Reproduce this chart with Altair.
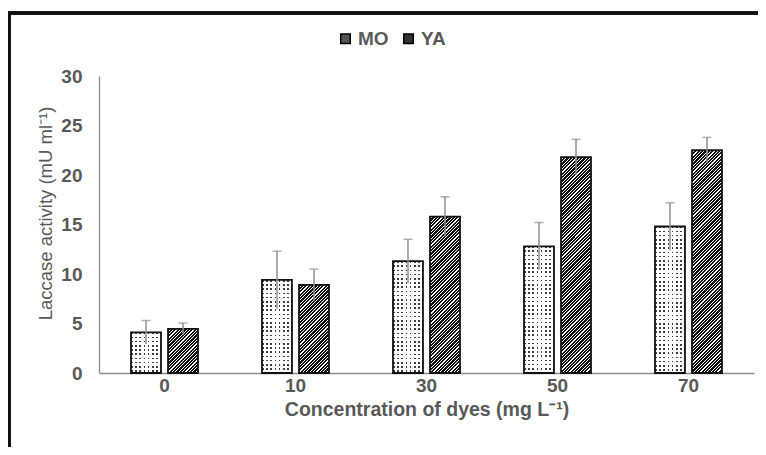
import math
import altair as alt
import pandas as pd

# ---------------- data ----------------
conc = ["0", "10", "30", "50", "70"]
series = ["MO", "YA"]
mo_vals = [4.1, 9.4, 11.3, 12.8, 14.8]
mo_err = [1.2, 2.9, 2.2, 2.4, 2.4]
ya_vals = [4.45, 8.9, 15.8, 21.8, 22.5]
ya_err = [0.6, 1.6, 2.0, 1.8, 1.3]

# ---------------- layout / style ----------------
PW, PH = 655, 297
YMAX = 30
BAR_W = 30
FONT = "Liberation Sans"
TXT = "#595959"
ERR = "#8f8f8f"

rows = []
for c, m, me, y, ye in zip(conc, mo_vals, mo_err, ya_vals, ya_err):
    rows.append(dict(conc=c, series="MO", value=m, err=me))
    rows.append(dict(conc=c, series="YA", value=y, err=ye))
df = pd.DataFrame(rows)
df["lo"] = df["value"] - df["err"]
df["hi"] = df["value"] + df["err"]

x_enc = alt.X(
    "conc:N",
    scale=alt.Scale(domain=conc, paddingInner=0.4885, paddingOuter=0.2443),
    axis=alt.Axis(
        title="Concentration of dyes (mg L⁻¹)",
        labelAngle=0,
        ticks=False,
        labelPadding=3,
        titlePadding=5,
        labelFontWeight="bold",
        titleFontWeight="bold",
        labelFontSize=19,
        titleFontSize=19.5,
    ),
)
xo_enc = alt.XOffset("series:N", scale=alt.Scale(domain=series, paddingInner=0.19, paddingOuter=0))
y_scale = alt.Scale(domain=[0, YMAX], nice=False)
y_axis = alt.Axis(
    title="Laccase activity (mU ml⁻¹)",
    values=[0, 5, 10, 15, 20, 25, 30],
    ticks=False,
    grid=False,
    labelPadding=17,
    titlePadding=5,
    titleY=137,
    labelFontWeight="bold",
    titleFontWeight="normal",
    labelFontSize=19,
    titleFontSize=18.5,
)


def stripes(n, frac, dark, light, x1, y1, x2, y2):
    stops = []
    k = 0
    while k < n:
        a = k / n
        b = min((k + frac) / n, 1.0)
        c = min((k + 1) / n, 1.0)
        stops += [
            {"offset": round(a, 5), "color": dark},
            {"offset": round(b, 5), "color": dark},
            {"offset": round(b, 5), "color": light},
            {"offset": round(c, 5), "color": light},
        ]
        k += 1
    return {"gradient": "linear", "x1": x1, "y1": y1, "x2": x2, "y2": y2, "stops": stops}


layers = []
for _, r in df.iterrows():
    d = pd.DataFrame([r.to_dict()])
    hpx = r["value"] / YMAX * PH
    base = alt.Chart(d).encode(
        x=x_enc, xOffset=xo_enc, y=alt.Y("value:Q", scale=y_scale, axis=y_axis)
    )
    if r["series"] == "MO":
        g1 = stripes(BAR_W / 4.2, 0.38, "#3e3e3e", "#ffffff", 0, 0, 1, 0)
        g2 = stripes(hpx / 4.2, 0.38, "rgba(255,255,255,0)", "#ffffff", 0, 0, 0, 1)
        layers.append(base.mark_bar(fill=g1, strokeWidth=0))
        layers.append(base.mark_bar(fill=g2, strokeWidth=0))
    else:
        rr = hpx / BAR_W
        s = (1 + rr) / (1 + rr * rr)
        n = (BAR_W + hpx) / math.sqrt(2) / 2.4
        g = stripes(n, 0.64, "#0e0e0e", "#ffffff", 0, 0, s, s * rr)
        layers.append(base.mark_bar(fill=g, strokeWidth=0))

outline = alt.Chart(df).mark_bar(fill="transparent", stroke="#111111", strokeWidth=1.8).encode(
    x=x_enc, xOffset=xo_enc, y=alt.Y("value:Q", scale=y_scale, axis=y_axis)
)

legend_layer = alt.Chart(df).mark_bar(strokeWidth=0).encode(
    x=x_enc,
    xOffset=xo_enc,
    y=alt.datum(0, scale=y_scale),
    color=alt.Color(
        "series:N",
        scale=alt.Scale(domain=series, range=["#555555", "#333333"]),
        legend=alt.Legend(
            title=None,
            orient="none",
            direction="horizontal",
            legendX=237,
            legendY=-47,
            symbolType="square",
            symbolSize=90,
            symbolStrokeColor="#000000",
            symbolStrokeWidth=1.5,
            labelFontSize=19,
            labelFontWeight="bold",
            labelColor=TXT,
            labelFont=FONT,
            labelOffset=3,
            columnPadding=10,
        ),
    ),
)

err_rule = alt.Chart(df).mark_rule(color=ERR, strokeWidth=1.5).encode(
    x=x_enc, xOffset=xo_enc, y=alt.Y("lo:Q", scale=y_scale), y2="hi:Q"
)
err_cap = alt.Chart(df).mark_tick(color=ERR, size=9, thickness=1.5).encode(
    x=x_enc, xOffset=xo_enc, y=alt.Y("hi:Q", scale=y_scale)
)

frame_top = alt.Chart(df).mark_rule(color="#111111", strokeWidth=2.5).encode(
    x=alt.value(-91), x2=alt.value(PW + 50), y=alt.value(-63)
)
frame_left = alt.Chart(df).mark_rule(color="#111111", strokeWidth=2.5).encode(
    x=alt.value(-90), y=alt.value(-64), y2=alt.value(PH + 120)
)

chart = (
    alt.layer(legend_layer, *layers, outline, err_rule, err_cap, frame_top, frame_left)
    .resolve_scale(y="shared", x="shared")
    .properties(
        width=PW,
        height=PH,
        padding={"left": 91, "top": 68, "right": 4, "bottom": 74},
        autosize=alt.AutoSizeParams(type="none"),
        background="white",
    )
    .configure_view(stroke=None)
    .configure_axis(
        labelFont=FONT,
        titleFont=FONT,
        labelColor=TXT,
        titleColor=TXT,
        domainColor="#8c8c8c",
        domainWidth=1.3,
    )
)

chart.save("out.html", embed_options={"renderer": "svg", "actions": False})
